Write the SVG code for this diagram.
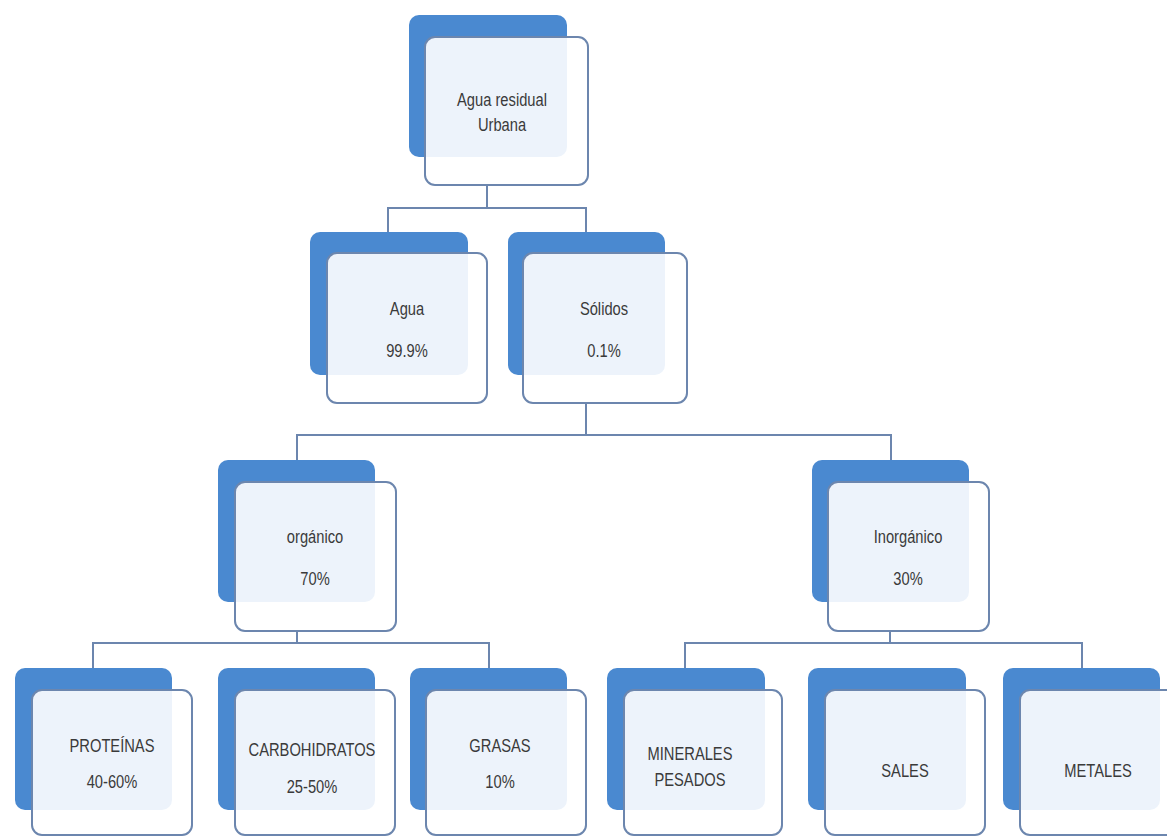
<svg xmlns="http://www.w3.org/2000/svg" width="1167" height="837" viewBox="0 0 1167 837">
<style>
.back{fill:#4A89D0;}
.front{fill:#ffffff;fill-opacity:0.9;stroke:#6C86AE;stroke-width:2;}
.lbl{font-family:"Liberation Sans",Arial,sans-serif;font-size:17.5px;fill:#3A3A3A;text-anchor:middle;}
.conn{fill:none;stroke:#6C86AE;stroke-width:2;}
</style>
<rect width="1167" height="837" fill="#ffffff"/>
<g id="connectors">
<path class="conn" d="M487,185 V208 M388,232 V208 H586 V232"/>
<path class="conn" d="M586,403 V435 M297,460 V435 H891 V460"/>
<path class="conn" d="M297,631 V643 M93,668 V643 H489 V668"/>
<path class="conn" d="M890,631 V643 M685,668 V643 H1082 V668"/>
</g>
<g id="n-agua-residual">
<rect class="back" x="409" y="15" width="158" height="142" rx="10"/>
<rect class="front" x="425" y="37" width="163" height="148" rx="10"/>
<text class="lbl" transform="translate(502,106) scale(0.84,1)">Agua residual</text>
<text class="lbl" transform="translate(502,131) scale(0.84,1)">Urbana</text>
</g>
<g id="n-agua">
<rect class="back" x="310" y="232" width="158" height="143" rx="10"/>
<rect class="front" x="327" y="253" width="160" height="150" rx="10"/>
<text class="lbl" transform="translate(407,315) scale(0.84,1)">Agua</text>
<text class="lbl" transform="translate(407,357) scale(0.84,1)">99.9%</text>
</g>
<g id="n-solidos">
<rect class="back" x="508" y="232" width="157" height="143" rx="10"/>
<rect class="front" x="523" y="253" width="164" height="150" rx="10"/>
<text class="lbl" transform="translate(604,315) scale(0.84,1)">Sólidos</text>
<text class="lbl" transform="translate(604,357) scale(0.84,1)">0.1%</text>
</g>
<g id="n-organico">
<rect class="back" x="218" y="460" width="157" height="142" rx="10"/>
<rect class="front" x="235" y="482" width="161" height="149" rx="10"/>
<text class="lbl" transform="translate(315,543) scale(0.84,1)">orgánico</text>
<text class="lbl" transform="translate(315,585) scale(0.84,1)">70%</text>
</g>
<g id="n-inorganico">
<rect class="back" x="812" y="460" width="157" height="142" rx="10"/>
<rect class="front" x="828" y="482" width="161" height="149" rx="10"/>
<text class="lbl" transform="translate(908,543) scale(0.84,1)">Inorgánico</text>
<text class="lbl" transform="translate(908,585) scale(0.84,1)">30%</text>
</g>
<g id="n-proteinas">
<rect class="back" x="15" y="668" width="157" height="142" rx="10"/>
<rect class="front" x="32" y="690" width="160" height="145" rx="10"/>
<text class="lbl" transform="translate(112,752) scale(0.84,1)">PROTEÍNAS</text>
<text class="lbl" transform="translate(112,788) scale(0.84,1)">40-60%</text>
</g>
<g id="n-carbohidratos">
<rect class="back" x="218" y="668" width="157" height="142" rx="10"/>
<rect class="front" x="235" y="690" width="160" height="145" rx="10"/>
<text class="lbl" transform="translate(312,756) scale(0.84,1)">CARBOHIDRATOS</text>
<text class="lbl" transform="translate(312,793) scale(0.84,1)">25-50%</text>
</g>
<g id="n-grasas">
<rect class="back" x="410" y="668" width="157" height="142" rx="10"/>
<rect class="front" x="426" y="690" width="160" height="145" rx="10"/>
<text class="lbl" transform="translate(500,752) scale(0.84,1)">GRASAS</text>
<text class="lbl" transform="translate(500,788) scale(0.84,1)">10%</text>
</g>
<g id="n-minerales">
<rect class="back" x="607" y="668" width="158" height="142" rx="10"/>
<rect class="front" x="624" y="690" width="158" height="145" rx="10"/>
<text class="lbl" transform="translate(690,760) scale(0.84,1)">MINERALES</text>
<text class="lbl" transform="translate(690,786) scale(0.84,1)">PESADOS</text>
</g>
<g id="n-sales">
<rect class="back" x="808" y="668" width="158" height="142" rx="10"/>
<rect class="front" x="825" y="690" width="160" height="145" rx="10"/>
<text class="lbl" transform="translate(905,777) scale(0.84,1)">SALES</text>
</g>
<g id="n-metales">
<rect class="back" x="1003" y="668" width="157" height="142" rx="10"/>
<rect class="front" x="1020" y="690" width="160" height="145" rx="10"/>
<text class="lbl" transform="translate(1098,777) scale(0.84,1)">METALES</text>
</g>
</svg>
